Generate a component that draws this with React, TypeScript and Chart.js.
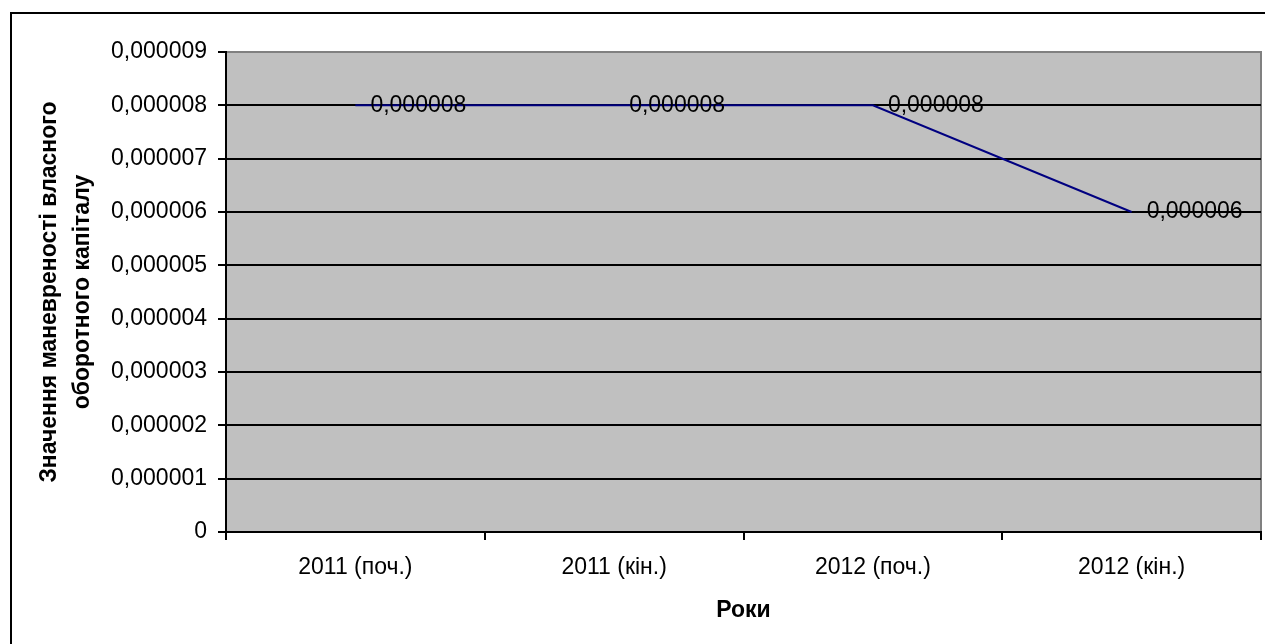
import React, { useEffect, useRef } from "react";
import { Chart, registerables } from "chart.js";

Chart.register(...registerables);

const categories = ["2011 (поч.)", "2011 (кін.)", "2012 (поч.)", "2012 (кін.)"];
const values = [0.000008, 0.000008, 0.000008, 0.000006];
const yTickValues = [0, 0.000001, 0.000002, 0.000003, 0.000004, 0.000005, 0.000006, 0.000007, 0.000008, 0.000009];
const yTitle = ["Значення маневреності власного", "оборотного капіталу"];
const xTitle = "Роки";

const FONT = "'Liberation Sans', Arial, sans-serif";
const fmt = (v: number) => (v === 0 ? "0" : v.toFixed(6).replace(".", ","));

const bgPlugin = {
  id: "plotBg",
  beforeDraw(chart: any) {
    const { ctx, chartArea } = chart;
    const { left, top, right, bottom } = chartArea;
    ctx.save();
    ctx.fillStyle = "#C0C0C0";
    ctx.fillRect(left, top, right - left, bottom - top);
    ctx.strokeStyle = "#808080";
    ctx.lineWidth = 2;
    ctx.beginPath();
    ctx.moveTo(left, top);
    ctx.lineTo(right, top);
    ctx.lineTo(right, bottom);
    ctx.stroke();
    ctx.restore();
  },
};

const labelPlugin = {
  id: "pointLabels",
  afterDatasetsDraw(chart: any) {
    const { ctx } = chart;
    const meta = chart.getDatasetMeta(0);
    ctx.save();
    ctx.font = `23px ${FONT}`;
    ctx.fillStyle = "#000";
    ctx.textAlign = "left";
    ctx.textBaseline = "middle";
    meta.data.forEach((pt: any, i: number) => {
      ctx.fillText(fmt(values[i]), pt.x + 15, pt.y);
    });
    ctx.restore();
  },
};

function LineChart() {
  const ref = useRef<HTMLCanvasElement | null>(null);
  useEffect(() => {
    if (!ref.current) return;
    const chart = new Chart(ref.current, {
      type: "line",
      data: {
        labels: categories,
        datasets: [
          {
            data: values,
            borderColor: "#000080",
            borderWidth: 2,
            pointRadius: 0,
            fill: false,
            tension: 0,
          },
        ],
      },
      options: {
        responsive: false,
        animation: false,
        devicePixelRatio: 1,
        layout: { padding: { top: 38, right: 13, bottom: 0, left: 0 } },
        plugins: {
          legend: { display: false },
          tooltip: { enabled: false },
        },
        scales: {
          x: {
            type: "category",
            offset: true,
            afterFit: (s: any) => {
              s.height = 122;
            },
            grid: {
              offset: true,
              drawOnChartArea: false,
              drawTicks: true,
              tickLength: 8,
              color: "#000",
              lineWidth: 2,
            },
            border: { display: true, color: "#000", width: 2 },
            ticks: {
              color: "#000",
              font: { family: FONT, size: 23 },
              padding: 14,
              maxRotation: 0,
              autoSkip: false,
            },
            title: {
              display: true,
              text: xTitle,
              color: "#000",
              font: { family: FONT, size: 23, weight: "bold" },
              padding: { top: 0, bottom: 30 },
            },
          },
          y: {
            min: 0,
            max: 0.000009,
            afterFit: (s: any) => {
              s.width = 214;
            },
            afterBuildTicks: (s: any) => {
              s.ticks = yTickValues.map((v) => ({ value: v }));
            },
            grid: {
              color: (c: any) =>
                c.tick && c.tick.value >= 0.0000089 ? "#808080" : "#000",
              tickColor: "#000",
              lineWidth: 2,
              drawTicks: true,
              tickLength: 8,
            },
            border: { display: true, color: "#000", width: 2 },
            ticks: {
              color: "#000",
              font: { family: FONT, size: 23 },
              padding: 11,
              callback: (v: any) => fmt(Number(v)),
            },
            title: {
              display: true,
              text: yTitle,
              color: "#000",
              font: { family: FONT, size: 23, weight: "bold", lineHeight: 1.45 },
              padding: { top: 21, bottom: 0 },
            },
          },
        },
      },
      plugins: [bgPlugin, labelPlugin],
    } as any);
    return () => chart.destroy();
  }, []);
  return (
    <canvas
      ref={ref}
      width={1262}
      height={640}
      style={{ position: "absolute", left: 0, top: 0, width: 1262, height: 640 }}
    />
  );
}

export default function App() {
  return (
    <div
      style={{
        position: "fixed",
        left: 0,
        top: 0,
        width: "100vw",
        height: "100vh",
        overflow: "hidden",
        background: "#fff",
      }}
    >
      <div
        style={{
          position: "absolute",
          left: 10,
          top: 12,
          width: 1300,
          height: 700,
          border: "2px solid #000",
          background: "#fff",
        }}
      >
        <LineChart />
      </div>
    </div>
  );
}
